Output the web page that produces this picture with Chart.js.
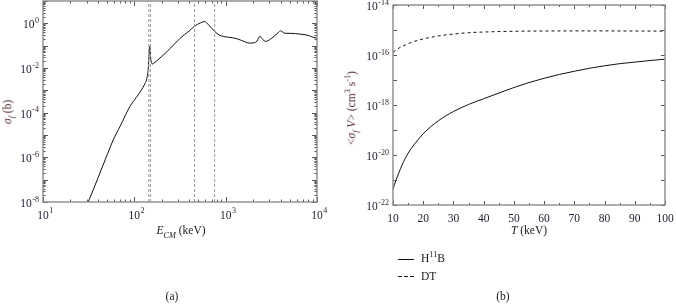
<!DOCTYPE html>
<html><head><meta charset="utf-8">
<script src="https://cdn.jsdelivr.net/npm/chart.js@4"></script>
<style>
html,body{margin:0;padding:0;background:#fff;}
#wrap{position:relative;width:676px;height:305px;overflow:hidden;font-family:"Liberation Serif","DejaVu Serif",serif;color:#1a1a1a;}
canvas{position:absolute;top:0;}
.t{position:absolute;white-space:nowrap;font-size:11.5px;line-height:1;transform:translate(-50%,-50%);}
.r{transform:translate(-50%,-50%) rotate(-90deg);color:#4a1e22;}
sub,sup{font-size:72%;line-height:0;}
</style></head>
<body><div id="wrap">
<canvas id="ca" width="340" height="240" style="left:0;width:340px;height:240px"></canvas>
<canvas id="cb" width="336" height="240" style="left:340px;width:336px;height:240px"></canvas>
<div class="t" style="left:181px;top:231px"><i>E</i><sub><i>CM</i></sub> (keV)</div>
<div class="t" style="left:529px;top:231px"><i>T</i> (keV)</div>
<div class="t r" style="left:8px;top:112px"><i>σ</i><sub><i>f</i></sub> (b)</div>
<div class="t r" style="left:352px;top:108px">&lt;<i>σ</i><sub><i>f</i></sub> <i>V</i>&gt; (cm<sup>3</sup> s<sup>-1</sup>)</div>
<svg style="position:absolute;left:398px;top:255px" width="18" height="25">
  <line x1="0" y1="4.5" x2="16" y2="4.5" stroke="#111" stroke-width="1"/>
  <line x1="0" y1="21.5" x2="16" y2="21.5" stroke="#111" stroke-width="1" stroke-dasharray="4,2"/>
</svg>
<div class="t" style="left:421px;top:259px;transform:translate(0,-50%)">H<sup>11</sup>B</div>
<div class="t" style="left:421px;top:277px;transform:translate(0,-50%)">DT</div>
<div class="t" style="left:172px;top:297px">(a)</div>
<div class="t" style="left:503px;top:297px">(b)</div>
</div>
<script>
// ---------- data: panel (a) H-11B fusion cross-section ----------
const hbEnergy = [30, 32, 40, 50, 58.7, 70, 89.5, 105, 120, 130, 136, 140, 142, 144, 146, 147.5, 149, 151, 154, 158, 164,
  200, 250, 315, 400, 460, 530, 590, 650, 760, 850, 940, 1100, 1300, 1500, 1840, 2050, 2200, 2370, 2550, 2750, 3000,
  3300, 3650, 4000, 4450, 5200, 6500, 8000, 9000, 10000];
const hbSigma = [7.1e-9, 1.26e-8, 1.2e-7, 1.2e-6, 6.0e-6, 2.5e-5, 1.9e-4, 4.8e-4, 1.05e-3, 1.9e-3, 2.95e-3, 5.6e-3, 8.9e-3, 0.025, 0.071, 0.093, 0.063, 0.028, 0.0174, 0.0151, 0.0166,
  0.033, 0.079, 0.21, 0.46, 0.76, 1.05, 1.2, 0.85, 0.43, 0.30, 0.26, 0.235, 0.21, 0.17, 0.13, 0.135, 0.16, 0.26, 0.19, 0.155, 0.18,
  0.24, 0.34, 0.46, 0.36, 0.355, 0.33, 0.29, 0.24, 0.22];
const resonanceLines = [144, 150, 456, 757];
// ---------- data: panel (b) reactivities ----------
const hbTemp = [10, 11, 12, 13, 14, 15, 16, 18, 20, 22.5, 25, 27.5, 30, 35, 40, 45, 50, 55, 60, 65, 70, 75, 80, 85, 90, 95, 100];
const hbRate = [4.3e-22, 1.0e-21, 2.0e-21, 4.0e-21, 7.1e-21, 1.17e-20, 1.78e-20, 3.7e-20, 7.1e-20, 1.35e-19, 2.34e-19, 3.7e-19, 5.5e-19,
  1.05e-18, 1.78e-18, 3.0e-18, 5.0e-18, 7.9e-18, 1.17e-17, 1.66e-17, 2.24e-17, 2.95e-17, 3.7e-17, 4.5e-17, 5.2e-17, 6.0e-17, 6.8e-17];
const dtTemp = [10, 12, 14, 16, 18, 20, 25, 30, 35, 40, 50, 60, 70, 80, 90, 100];
const dtRate = [1.29e-16, 1.9e-16, 2.5e-16, 3.16e-16, 3.8e-16, 4.4e-16, 5.75e-16, 6.9e-16, 7.8e-16, 8.3e-16, 8.9e-16, 9.1e-16, 9.2e-16, 9.2e-16, 9.1e-16, 9.0e-16];
// ---------- tick labels ----------
const aXExps = [1, 2, 3, 4];
const aYExps = [0, -2, -4, -6, -8];
const bXLabels = [10, 20, 30, 40, 50, 60, 70, 80, 90, 100];
const bYExps = [-14, -16, -18, -20, -22];

const pts = (xs, ys) => xs.map((v, i) => ({x: v, y: ys[i]}));
const FONT = '"Liberation Serif","DejaVu Serif",serif';

const axisDeco = {
  id: 'axisDeco',
  afterDraw(chart, args, o) {
    const {ctx, chartArea: a, scales: {x, y}} = chart;
    ctx.save();
    ctx.strokeStyle = '#555'; ctx.lineWidth = 1;
    const tx = (vals, len) => vals.forEach(v => {
      const p = Math.round(x.getPixelForValue(v)) + 0.5;
      ctx.beginPath(); ctx.moveTo(p, a.bottom); ctx.lineTo(p, a.bottom - len);
      ctx.moveTo(p, a.top); ctx.lineTo(p, a.top + len); ctx.stroke();
    });
    const ty = (vals, len) => vals.forEach(v => {
      const p = Math.round(y.getPixelForValue(v)) + 0.5;
      ctx.beginPath(); ctx.moveTo(a.left, p); ctx.lineTo(a.left + len, p);
      ctx.moveTo(a.right, p); ctx.lineTo(a.right - len, p); ctx.stroke();
    });
    tx(o.xMinor, o.minorLen); tx(o.xMajor, o.majorLen);
    ty(o.yMinor, o.minorLen); ty(o.yMajor, o.majorLen);
    ctx.strokeStyle = '#8a8a8a'; ctx.lineWidth = 1.4;
    ctx.strokeRect(a.left, a.top, a.width, a.height);
    // labels
    const big = '11.5px ' + FONT, small = '8px ' + FONT;
    ctx.textBaseline = 'middle';
    o.xLabels.forEach(l => {
      const p = x.getPixelForValue(l.v);
      ctx.font = big; ctx.fillStyle = '#1c1c30'; ctx.textAlign = 'center';
      ctx.fillText(l.t, p, a.bottom + 14);
      if (l.e !== undefined) {
        const w = ctx.measureText(l.t).width;
        ctx.font = small; ctx.fillStyle = '#301c20'; ctx.textAlign = 'left';
        ctx.fillText(String(l.e), p + w / 2 + 0.5, a.bottom + 9);
      }
    });
    o.yLabels.forEach(l => {
      const p = y.getPixelForValue(l.v);
      ctx.font = small; ctx.fillStyle = '#301c20'; ctx.textAlign = 'right';
      const es = String(l.e);
      const ew = ctx.measureText(es).width;
      const right = a.left - 4;
      ctx.fillText(es, right, p - 2.5);
      ctx.font = big; ctx.fillStyle = '#1c1c30';
      ctx.fillText('10', right - ew - 0.5, p + 2);
    });
    ctx.restore();
  }
};

function fitW(w) { return s => { s.width = w; }; }
function fitH(h) { return s => { s.height = h; }; }

// panel (a)
const aXMinor = [], aYMinor = [], aYMajor = [];
[10, 100, 1000].forEach(d => { for (let k = 2; k <= 9; k++) aXMinor.push(k * d); });
for (let e = -8; e <= 1; e++) { aYMajor.push(Math.pow(10, e)); if (e < 1) for (let k = 2; k <= 9; k++) aYMinor.push(k * Math.pow(10, e)); }

const aDatasets = resonanceLines.map(E => ({
  data: [{x: E, y: 1e-8}, {x: E, y: 10}], borderColor: '#9a9a9a', borderWidth: 1, borderDash: [3, 2], pointRadius: 0
}));
aDatasets.push({data: pts(hbEnergy, hbSigma), borderColor: '#111', borderWidth: 1, pointRadius: 0, cubicInterpolationMode: 'monotone'});

new Chart(document.getElementById('ca'), {
  type: 'line',
  data: {datasets: aDatasets},
  options: {
    responsive: false, animation: false, devicePixelRatio: 1,
    layout: {padding: {left: 0, right: 23, top: 1, bottom: 0}},
    scales: {
      x: {type: 'logarithmic', min: 10, max: 10000, ticks: {display: false}, grid: {display: false}, border: {display: false}, afterFit: fitH(38)},
      y: {type: 'logarithmic', min: 1e-8, max: 10, ticks: {display: false}, grid: {display: false}, border: {display: false}, afterFit: fitW(43)}
    },
    plugins: {
      legend: {display: false}, tooltip: {enabled: false},
      axisDeco: {
        xMajor: aXExps.map(e => Math.pow(10, e)), xMinor: aXMinor, yMajor: aYMajor, yMinor: aYMinor,
        majorLen: 5, minorLen: 2.5,
        xLabels: aXExps.map(e => ({v: Math.pow(10, e), t: '10', e: e})),
        yLabels: aYExps.map(e => ({v: Math.pow(10, e), e: e}))
      }
    }
  },
  plugins: [axisDeco]
});

// panel (b)
const bXMajor = bXLabels, bXMinor = [15, 25, 35, 45, 55, 65, 75, 85, 95];
const bYMajor = []; for (let e = -22; e <= -14; e++) bYMajor.push(Math.pow(10, e));

new Chart(document.getElementById('cb'), {
  type: 'line',
  data: {datasets: [
    {label: 'H11B', data: pts(hbTemp, hbRate), borderColor: '#111', borderWidth: 1, pointRadius: 0, cubicInterpolationMode: 'monotone'},
    {label: 'DT', data: pts(dtTemp, dtRate), borderColor: '#111', borderWidth: 1, borderDash: [3, 3], pointRadius: 0, cubicInterpolationMode: 'monotone'}
  ]},
  options: {
    responsive: false, animation: false, devicePixelRatio: 1,
    layout: {padding: {left: 0, right: 11, top: 5, bottom: 0}},
    scales: {
      x: {type: 'linear', min: 10, max: 100, ticks: {display: false}, grid: {display: false}, border: {display: false}, afterFit: fitH(35)},
      y: {type: 'logarithmic', min: 1e-22, max: 1e-14, ticks: {display: false}, grid: {display: false}, border: {display: false}, afterFit: fitW(53)}
    },
    plugins: {
      legend: {display: false}, tooltip: {enabled: false},
      axisDeco: {
        xMajor: bXMajor, xMinor: bXMinor, yMajor: bYMajor, yMinor: [],
        majorLen: 4, minorLen: 2,
        xLabels: bXLabels.map(v => ({v: v, t: String(v)})),
        yLabels: bYExps.map(e => ({v: Math.pow(10, e), e: e}))
      }
    }
  },
  plugins: [axisDeco]
});
</script>
</body></html>
